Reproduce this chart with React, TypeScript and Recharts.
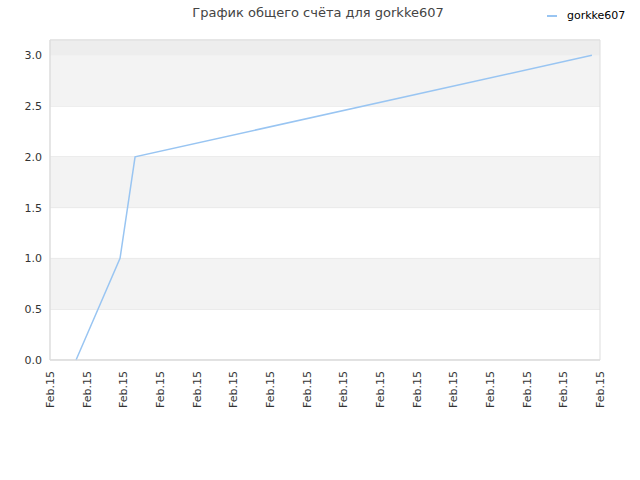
import React from "react";
import {
  LineChart,
  Line,
  XAxis,
  YAxis,
  CartesianGrid,
  ReferenceArea,
} from "recharts";

const FONT = "'DejaVu Sans', sans-serif";

// x position (in tick steps) and total score
const positions = [0.71, 1.91, 2.32, 14.78];
const scores = [0, 1, 2, 3];
const xTicks = [0, 1, 2, 3, 4, 5, 6, 7, 8, 9, 10, 11, 12, 13, 14, 15];
const xTickLabel = "Feb.15";
const yTicks = [0, 0.5, 1, 1.5, 2, 2.5, 3];
const bands: [number, number][] = [
  [0.5, 1],
  [1.5, 2],
  [2.5, 3],
];

const data = positions.map((p, i) => ({ t: p, score: scores[i] }));

function XTick({ x, y }: any) {
  return (
    <text
      x={0}
      y={0}
      transform={`translate(${x + 4},${y + 3}) rotate(-90)`}
      textAnchor="end"
      fontSize={11}
      fontFamily={FONT}
      fill="#333"
    >
      {xTickLabel}
    </text>
  );
}

export default function App() {
  return (
    <div style={{ position: "absolute", left: 0, top: 0, width: 640, height: 480, background: "#fff" }}>
      <div
        style={{
          position: "absolute",
          top: 5,
          left: 0,
          width: 636,
          textAlign: "center",
          fontFamily: FONT,
          fontSize: 13,
          color: "#444",
        }}
      >
        График общего счёта для gorkke607
      </div>
      <div
        style={{
          position: "absolute",
          top: 9,
          left: 547,
          display: "flex",
          alignItems: "center",
          fontFamily: FONT,
          fontSize: 11,
          color: "#000",
        }}
      >
        <span style={{ display: "inline-block", width: 10, height: 2, background: "#99c5f2", marginRight: 10 }} />
        gorkke607
      </div>
      <LineChart
        width={640}
        height={480}
        data={data}
        margin={{ top: 40, right: 40, bottom: 60, left: 10 }}
      >
        <ReferenceArea y1={3} y2={3.15} fill="#ededed" fillOpacity={1} stroke="none" />
        {bands.map(([a, b], i) => (
          <ReferenceArea key={i} y1={a} y2={b} fill="#f3f3f3" fillOpacity={1} stroke="none" />
        ))}
        <CartesianGrid vertical={false} stroke="#e0e0e0" />
        <ReferenceArea x1={0} x2={15} y1={0} y2={3.15} fill="none" stroke="#dddddd" />
        <XAxis
          type="number"
          dataKey="t"
          domain={[0, 15]}
          ticks={xTicks}
          interval={0}
          height={60}
          tick={<XTick />}
          tickLine={false}
          axisLine={{ stroke: "#dddddd" }}
        />
        <YAxis
          type="number"
          domain={[0, 3.15]}
          ticks={yTicks}
          width={40}
          tickFormatter={(v: number) => v.toFixed(1)}
          tick={{ fontSize: 11, fill: "#333", fontFamily: FONT }}
          tickLine={false}
          axisLine={{ stroke: "#dddddd" }}
        />
        <Line
          type="linear"
          dataKey="score"
          stroke="#99c5f2"
          strokeWidth={1.5}
          dot={false}
          isAnimationActive={false}
        />
      </LineChart>
    </div>
  );
}
